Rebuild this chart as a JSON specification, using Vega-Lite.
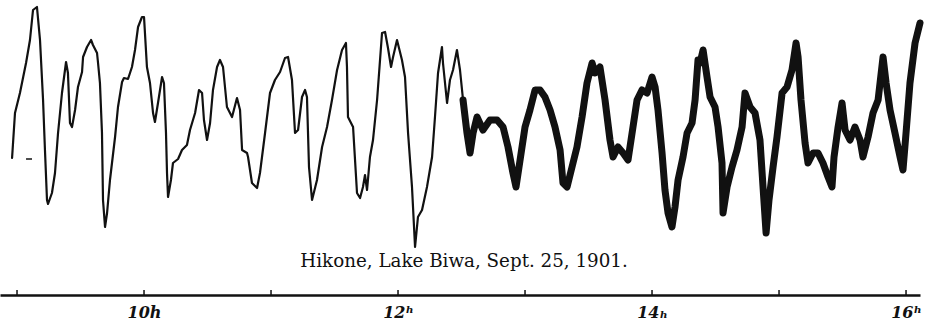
{
  "$schema": "https://vega.github.io/schema/vega-lite/v6.json",
  "width": 920,
  "height": 295,
  "autosize": {"type": "none"},
  "padding": {"left": 0, "top": 0, "right": 9, "bottom": 28},
  "background": "white",
  "config": {"view": {"stroke": null}},
  "layer": [
    {
      "data": {"values": [
        {"t":8.961,"v":137,"seg":"calm"},{"t":8.984,"v":182,"seg":"calm"},{"t":9.023,"v":202,"seg":"calm"},{"t":9.071,"v":232,"seg":"calm"},{"t":9.102,"v":255,"seg":"calm"},{"t":9.126,"v":285,"seg":"calm"},{"t":9.157,"v":288,"seg":"calm"},{"t":9.181,"v":255,"seg":"calm"},{"t":9.205,"v":195,"seg":"calm"},{"t":9.220,"v":145,"seg":"calm"},{"t":9.236,"v":95,"seg":"calm"},{"t":9.244,"v":91,"seg":"calm"},{"t":9.275,"v":102,"seg":"calm"},{"t":9.299,"v":122,"seg":"calm"},{"t":9.323,"v":162,"seg":"calm"},{"t":9.354,"v":202,"seg":"calm"},{"t":9.386,"v":233,"seg":"calm"},{"t":9.401,"v":222,"seg":"calm"},{"t":9.417,"v":172,"seg":"calm"},{"t":9.433,"v":168,"seg":"calm"},{"t":9.457,"v":185,"seg":"calm"},{"t":9.480,"v":208,"seg":"calm"},{"t":9.512,"v":223,"seg":"calm"},{"t":9.520,"v":238,"seg":"calm"},{"t":9.551,"v":248,"seg":"calm"},{"t":9.583,"v":255,"seg":"calm"},{"t":9.598,"v":250,"seg":"calm"},{"t":9.630,"v":242,"seg":"calm"},{"t":9.638,"v":232,"seg":"calm"},{"t":9.653,"v":212,"seg":"calm"},{"t":9.669,"v":162,"seg":"calm"},{"t":9.677,"v":95,"seg":"calm"},{"t":9.693,"v":68,"seg":"calm"},{"t":9.709,"v":82,"seg":"calm"},{"t":9.732,"v":115,"seg":"calm"},{"t":9.772,"v":158,"seg":"calm"},{"t":9.795,"v":188,"seg":"calm"},{"t":9.827,"v":213,"seg":"calm"},{"t":9.842,"v":217,"seg":"calm"},{"t":9.874,"v":216,"seg":"calm"},{"t":9.905,"v":228,"seg":"calm"},{"t":9.929,"v":245,"seg":"calm"},{"t":9.953,"v":268,"seg":"calm"},{"t":9.984,"v":278,"seg":"calm"},{"t":10.000,"v":278,"seg":"calm"},{"t":10.023,"v":228,"seg":"calm"},{"t":10.047,"v":212,"seg":"calm"},{"t":10.071,"v":182,"seg":"calm"},{"t":10.086,"v":173,"seg":"calm"},{"t":10.110,"v":192,"seg":"calm"},{"t":10.142,"v":218,"seg":"calm"},{"t":10.157,"v":212,"seg":"calm"},{"t":10.173,"v":162,"seg":"calm"},{"t":10.181,"v":122,"seg":"calm"},{"t":10.189,"v":98,"seg":"calm"},{"t":10.212,"v":115,"seg":"calm"},{"t":10.228,"v":132,"seg":"calm"},{"t":10.268,"v":136,"seg":"calm"},{"t":10.299,"v":145,"seg":"calm"},{"t":10.338,"v":150,"seg":"calm"},{"t":10.362,"v":165,"seg":"calm"},{"t":10.402,"v":182,"seg":"calm"},{"t":10.433,"v":205,"seg":"calm"},{"t":10.457,"v":202,"seg":"calm"},{"t":10.472,"v":175,"seg":"calm"},{"t":10.496,"v":155,"seg":"calm"},{"t":10.520,"v":172,"seg":"calm"},{"t":10.543,"v":205,"seg":"calm"},{"t":10.575,"v":228,"seg":"calm"},{"t":10.598,"v":235,"seg":"calm"},{"t":10.622,"v":228,"seg":"calm"},{"t":10.653,"v":188,"seg":"calm"},{"t":10.693,"v":178,"seg":"calm"},{"t":10.732,"v":197,"seg":"calm"},{"t":10.756,"v":185,"seg":"calm"},{"t":10.772,"v":145,"seg":"calm"},{"t":10.811,"v":142,"seg":"calm"},{"t":10.819,"v":138,"seg":"calm"},{"t":10.850,"v":112,"seg":"calm"},{"t":10.890,"v":107,"seg":"calm"},{"t":10.913,"v":122,"seg":"calm"},{"t":10.953,"v":162,"seg":"calm"},{"t":10.992,"v":202,"seg":"calm"},{"t":11.031,"v":215,"seg":"calm"},{"t":11.071,"v":223,"seg":"calm"},{"t":11.110,"v":237,"seg":"calm"},{"t":11.134,"v":238,"seg":"calm"},{"t":11.165,"v":215,"seg":"calm"},{"t":11.189,"v":162,"seg":"calm"},{"t":11.213,"v":165,"seg":"calm"},{"t":11.244,"v":198,"seg":"calm"},{"t":11.268,"v":205,"seg":"calm"},{"t":11.283,"v":198,"seg":"calm"},{"t":11.299,"v":128,"seg":"calm"},{"t":11.323,"v":95,"seg":"calm"},{"t":11.362,"v":115,"seg":"calm"},{"t":11.402,"v":148,"seg":"calm"},{"t":11.441,"v":168,"seg":"calm"},{"t":11.480,"v":195,"seg":"calm"},{"t":11.520,"v":225,"seg":"calm"},{"t":11.559,"v":245,"seg":"calm"},{"t":11.590,"v":252,"seg":"calm"},{"t":11.598,"v":228,"seg":"calm"},{"t":11.606,"v":178,"seg":"calm"},{"t":11.646,"v":168,"seg":"calm"},{"t":11.677,"v":102,"seg":"calm"},{"t":11.701,"v":97,"seg":"calm"},{"t":11.724,"v":108,"seg":"calm"},{"t":11.740,"v":120,"seg":"calm"},{"t":11.756,"v":105,"seg":"calm"},{"t":11.779,"v":138,"seg":"calm"},{"t":11.803,"v":155,"seg":"calm"},{"t":11.835,"v":195,"seg":"calm"},{"t":11.874,"v":262,"seg":"calm"},{"t":11.898,"v":263,"seg":"calm"},{"t":11.921,"v":247,"seg":"calm"},{"t":11.945,"v":228,"seg":"calm"},{"t":11.961,"v":238,"seg":"calm"},{"t":11.992,"v":255,"seg":"calm"},{"t":12.031,"v":235,"seg":"calm"},{"t":12.055,"v":218,"seg":"calm"},{"t":12.079,"v":162,"seg":"calm"},{"t":12.110,"v":108,"seg":"calm"},{"t":12.134,"v":48,"seg":"calm"},{"t":12.157,"v":78,"seg":"calm"},{"t":12.189,"v":85,"seg":"calm"},{"t":12.228,"v":108,"seg":"calm"},{"t":12.268,"v":138,"seg":"calm"},{"t":12.291,"v":178,"seg":"calm"},{"t":12.315,"v":222,"seg":"calm"},{"t":12.346,"v":248,"seg":"calm"},{"t":12.354,"v":232,"seg":"calm"},{"t":12.386,"v":192,"seg":"calm"},{"t":12.409,"v":215,"seg":"calm"},{"t":12.433,"v":225,"seg":"calm"},{"t":12.464,"v":245,"seg":"calm"},{"t":12.488,"v":225,"seg":"calm"},{"t":12.512,"v":195,"seg":"calm"},
        {"t":12.512,"v":195,"seg":"agitated"},{"t":12.543,"v":162,"seg":"agitated"},{"t":12.567,"v":142,"seg":"agitated"},{"t":12.591,"v":162,"seg":"agitated"},{"t":12.622,"v":178,"seg":"agitated"},{"t":12.669,"v":165,"seg":"agitated"},{"t":12.724,"v":175,"seg":"agitated"},{"t":12.780,"v":175,"seg":"agitated"},{"t":12.827,"v":168,"seg":"agitated"},{"t":12.866,"v":148,"seg":"agitated"},{"t":12.905,"v":122,"seg":"agitated"},{"t":12.929,"v":108,"seg":"agitated"},{"t":12.961,"v":135,"seg":"agitated"},{"t":13.000,"v":168,"seg":"agitated"},{"t":13.039,"v":185,"seg":"agitated"},{"t":13.079,"v":205,"seg":"agitated"},{"t":13.118,"v":205,"seg":"agitated"},{"t":13.157,"v":198,"seg":"agitated"},{"t":13.197,"v":185,"seg":"agitated"},{"t":13.236,"v":168,"seg":"agitated"},{"t":13.276,"v":145,"seg":"agitated"},{"t":13.299,"v":112,"seg":"agitated"},{"t":13.331,"v":108,"seg":"agitated"},{"t":13.370,"v":128,"seg":"agitated"},{"t":13.409,"v":148,"seg":"agitated"},{"t":13.449,"v":178,"seg":"agitated"},{"t":13.488,"v":212,"seg":"agitated"},{"t":13.528,"v":232,"seg":"agitated"},{"t":13.551,"v":222,"seg":"agitated"},{"t":13.590,"v":228,"seg":"agitated"},{"t":13.630,"v":195,"seg":"agitated"},{"t":13.669,"v":155,"seg":"agitated"},{"t":13.693,"v":138,"seg":"agitated"},{"t":13.732,"v":148,"seg":"agitated"},{"t":13.772,"v":142,"seg":"agitated"},{"t":13.811,"v":135,"seg":"agitated"},{"t":13.843,"v":162,"seg":"agitated"},{"t":13.882,"v":195,"seg":"agitated"},{"t":13.921,"v":205,"seg":"agitated"},{"t":13.961,"v":202,"seg":"agitated"},{"t":14.000,"v":218,"seg":"agitated"},{"t":14.024,"v":208,"seg":"agitated"},{"t":14.047,"v":185,"seg":"agitated"},{"t":14.079,"v":142,"seg":"agitated"},{"t":14.102,"v":105,"seg":"agitated"},{"t":14.126,"v":82,"seg":"agitated"},{"t":14.157,"v":68,"seg":"agitated"},{"t":14.181,"v":88,"seg":"agitated"},{"t":14.205,"v":115,"seg":"agitated"},{"t":14.244,"v":138,"seg":"agitated"},{"t":14.276,"v":162,"seg":"agitated"},{"t":14.315,"v":172,"seg":"agitated"},{"t":14.339,"v":195,"seg":"agitated"},{"t":14.362,"v":235,"seg":"agitated"},{"t":14.378,"v":232,"seg":"agitated"},{"t":14.402,"v":245,"seg":"agitated"},{"t":14.433,"v":218,"seg":"agitated"},{"t":14.457,"v":198,"seg":"agitated"},{"t":14.496,"v":188,"seg":"agitated"},{"t":14.520,"v":168,"seg":"agitated"},{"t":14.551,"v":132,"seg":"agitated"},{"t":14.559,"v":82,"seg":"agitated"},{"t":14.591,"v":108,"seg":"agitated"},{"t":14.630,"v":128,"seg":"agitated"},{"t":14.669,"v":145,"seg":"agitated"},{"t":14.709,"v":168,"seg":"agitated"},{"t":14.732,"v":202,"seg":"agitated"},{"t":14.772,"v":188,"seg":"agitated"},{"t":14.811,"v":182,"seg":"agitated"},{"t":14.850,"v":155,"seg":"agitated"},{"t":14.874,"v":108,"seg":"agitated"},{"t":14.898,"v":62,"seg":"agitated"},{"t":14.921,"v":95,"seg":"agitated"},{"t":14.953,"v":128,"seg":"agitated"},{"t":14.984,"v":158,"seg":"agitated"},{"t":15.024,"v":202,"seg":"agitated"},{"t":15.063,"v":208,"seg":"agitated"},{"t":15.102,"v":225,"seg":"agitated"},{"t":15.134,"v":252,"seg":"agitated"},{"t":15.150,"v":238,"seg":"agitated"},{"t":15.173,"v":195,"seg":"agitated"},{"t":15.205,"v":152,"seg":"agitated"},{"t":15.228,"v":132,"seg":"agitated"},{"t":15.268,"v":142,"seg":"agitated"},{"t":15.307,"v":142,"seg":"agitated"},{"t":15.346,"v":132,"seg":"agitated"},{"t":15.386,"v":118,"seg":"agitated"},{"t":15.417,"v":108,"seg":"agitated"},{"t":15.433,"v":138,"seg":"agitated"},{"t":15.465,"v":168,"seg":"agitated"},{"t":15.496,"v":192,"seg":"agitated"},{"t":15.520,"v":165,"seg":"agitated"},{"t":15.559,"v":155,"seg":"agitated"},{"t":15.598,"v":168,"seg":"agitated"},{"t":15.638,"v":155,"seg":"agitated"},{"t":15.661,"v":138,"seg":"agitated"},{"t":15.701,"v":158,"seg":"agitated"},{"t":15.740,"v":182,"seg":"agitated"},{"t":15.780,"v":195,"seg":"agitated"},{"t":15.819,"v":238,"seg":"agitated"},{"t":15.843,"v":212,"seg":"agitated"},{"t":15.874,"v":185,"seg":"agitated"},{"t":15.913,"v":162,"seg":"agitated"},{"t":15.953,"v":138,"seg":"agitated"},{"t":15.976,"v":125,"seg":"agitated"},{"t":16.000,"v":162,"seg":"agitated"},{"t":16.031,"v":212,"seg":"agitated"},{"t":16.071,"v":252,"seg":"agitated"},{"t":16.110,"v":272,"seg":"agitated"}
      ]},
      "mark": {"type": "line", "color": "#111111", "strokeJoin": "round", "strokeCap": "round"},
      "encoding": {
        "x": {"field": "t", "type": "quantitative",
          "scale": {"domain": [8.866, 16.110], "nice": false, "zero": false},
          "axis": {"title": null, "values": [10,12,14,16], "grid": false, "ticks": false,
            "labelExpr": "datum.value == 10 ? '10h' : datum.value == 12 ? '12ʰ' : datum.value == 14 ? '14ₕ' : '16ʰ'",
            "domainColor": "#111111", "domainWidth": 2.5,
            "labelFont": "DejaVu Serif", "labelFontStyle": "italic", "labelFontWeight": "bold", "labelFontSize": 16,
            "labelColor": "#111111", "labelPadding": 9, "labelFlush": false, "labelOverlap": false}},
        "y": {"field": "v", "type": "quantitative", "scale": {"domain": [0, 295], "nice": false}, "axis": null},
        "strokeWidth": {"field": "seg", "type": "nominal", "scale": {"domain": ["calm", "agitated"], "range": [2.2, 7]}, "legend": null}
      }
    },
    {
      "data": {"values": [{"h": 9}, {"h": 10}, {"h": 11}, {"h": 12}, {"h": 13}, {"h": 14}, {"h": 15}, {"h": 16}]},
      "mark": {"type": "rule", "color": "#111111", "strokeWidth": 1.5},
      "encoding": {
        "x": {"field": "h", "type": "quantitative"},
        "y": {"datum": 0},
        "y2": {"datum": 5}
      }
    },
    {
      "data": {"values": [{"t1": 9.071, "t2": 9.118, "v": 136}]},
      "mark": {"type": "rule", "color": "#111111", "strokeWidth": 1.5},
      "encoding": {
        "x": {"field": "t1", "type": "quantitative"},
        "x2": {"field": "t2"},
        "y": {"field": "v", "type": "quantitative"}
      }
    },
    {
      "data": {"values": [{"t": 12.52, "v": 33, "label": "Hikone, Lake Biwa, Sept. 25, 1901."}]},
      "mark": {"type": "text", "font": "DejaVu Serif", "fontSize": 18.3, "color": "#111111", "align": "center", "baseline": "middle"},
      "encoding": {
        "x": {"field": "t", "type": "quantitative"},
        "y": {"field": "v", "type": "quantitative"},
        "text": {"field": "label"}
      }
    }
  ]
}
